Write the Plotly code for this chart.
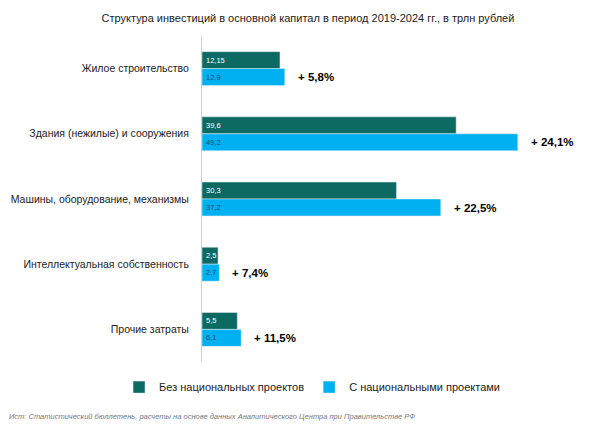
import plotly.graph_objects as go

categories = ["Жилое строительство", "Здания (нежилые) и сооружения",
              "Машины, оборудование, механизмы", "Интеллектуальная собственность",
              "Прочие затраты"]
without_np = [12.15, 39.6, 30.3, 2.5, 5.5]
with_np = [12.9, 49.2, 37.2, 2.7, 6.1]
growth = ["+ 5,8%", "+ 24,1%", "+ 22,5%", "+ 7,4%", "+ 11,5%"]

FONT = "Liberation Sans Narrow, Arial Narrow, Liberation Sans, Arial"
dark = "#0d6a62"
light = "#00b0f0"

def fmt(v):
    return ("%g" % v).replace(".", ",")

fig = go.Figure()
fig.add_trace(go.Bar(y=categories, x=without_np, orientation="h",
                     name="Без национальных проектов", marker_color=dark))
fig.add_trace(go.Bar(y=categories, x=with_np, orientation="h",
                     name="С национальными проектами", marker_color=light))

ann = []
for c, a, b, g in zip(categories, without_np, with_np, growth):
    ann.append(dict(x=0, y=c, text=fmt(a), showarrow=False, xanchor="left",
                    xshift=2, yshift=8.5, font=dict(size=7.5, color="white")))
    ann.append(dict(x=0, y=c, text=fmt(b), showarrow=False, xanchor="left",
                    xshift=2, yshift=-8.5, font=dict(size=7.5, color="#1f4e79")))
    ann.append(dict(x=b, y=c, text="<b>" + g + "</b>", showarrow=False,
                    xanchor="left", xshift=11, yshift=-8.5,
                    font=dict(size=11.5, color="black")))
# source line under the legend
ann.append(dict(x=-0.553, y=-0.166, xref="paper", yref="paper",
                xanchor="left", yanchor="middle",
                text="<i>Ист: Статистический бюллетень, расчеты на основе данных Аналитического Центра при Правительстве РФ</i>",
                showarrow=False, font=dict(size=7.5, color="#777777")))

# page has an 8px body margin, so everything is laid out 8px up/left
fig.update_layout(
    width=600, height=429,
    margin=dict(l=194, r=53, t=28, b=75, autoexpand=False),
    paper_bgcolor="white", plot_bgcolor="white",
    font=dict(family=FONT, color="#222222"),
    title=dict(text="Структура инвестиций в основной капитал в период 2019-2024 гг., в трлн рублей",
               x=0.5, xref="container", xanchor="center", y=0.977, yanchor="middle",
               font=dict(size=11, color="#222222")),
    barmode="group", bargap=0.48, bargroupgap=0,
    showlegend=True,
    legend=dict(orientation="h", x=-0.235, xanchor="left",
                y=-0.077, yanchor="middle", font=dict(size=11),
                itemwidth=30, traceorder="normal"),
    annotations=ann,
)
fig.update_xaxes(range=[0, 55], visible=False, showgrid=False, zeroline=False)
fig.update_yaxes(autorange="reversed", showline=True, linecolor="#d0d0d0",
                 ticks="", ticklabelstandoff=10, showgrid=False, automargin=False,
                 tickfont=dict(size=10.5, color="#222222"))

fig.write_html("out.html")
